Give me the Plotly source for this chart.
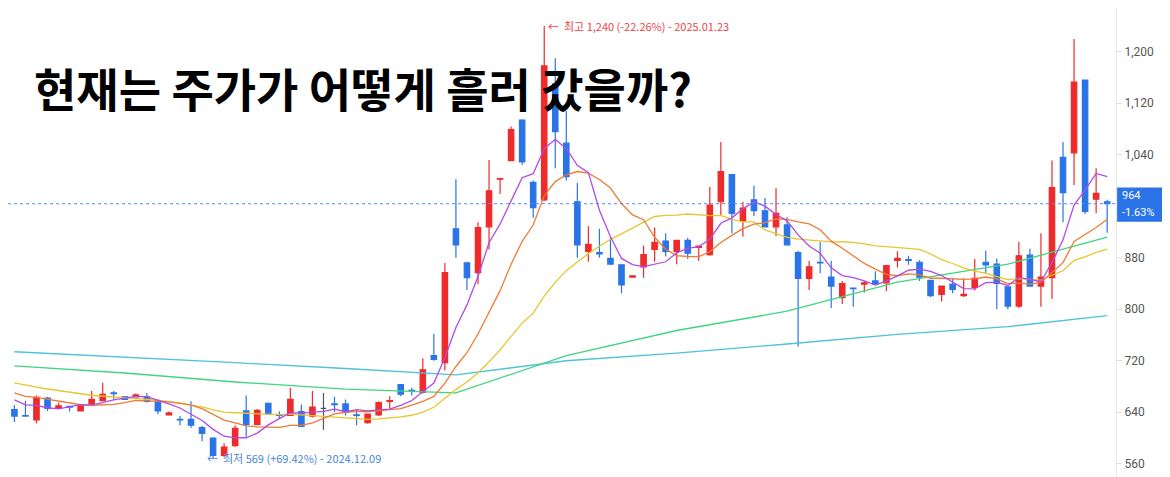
import pandas as pd
import plotly.graph_objs as go

# OHLC, one row per trading day (index 0..99)
opens = [644, 635, 628, 662, 646, 649, 642, 653, 658, 670, 664, 664, 664, 658, 636, 629, 629, 616, 600, 573,
         588, 642, 621, 654, 636, 635, 641, 634, 646, 653, 653, 636, 624, 636, 657, 683, 674, 671, 728, 717,
         925, 872, 857, 928, 1002, 1031, 1094, 997, 970, 1150, 1058, 967, 890, 888, 879, 869, 850, 866, 893, 906,
         890, 907, 896, 885, 967, 1009, 937, 970, 953, 928, 931, 888, 848, 873, 850, 818, 833, 839, 844, 841,
         876, 877, 873, 845, 823, 839, 821, 834, 873, 870, 835, 805, 884, 836, 849, 1036, 1043, 1156, 971, 967]
highs = [651, 658, 666, 664, 655, 649, 653, 673, 686, 673, 665, 669, 670, 660, 641, 634, 657, 619, 601, 592,
         620, 666, 645, 655, 641, 678, 652, 673, 670, 664, 660, 644, 638, 657, 665, 684, 678, 724, 762, 872,
         1002, 874, 935, 1032, 1003, 1084, 1095, 1000, 1240, 1190, 1108, 996, 929, 925, 912, 869, 853, 899, 927, 918,
         907, 911, 899, 990, 1060, 1009, 967, 992, 973, 988, 943, 891, 875, 905, 875, 844, 834, 844, 859, 869,
         890, 883, 876, 845, 836, 848, 848, 878, 891, 879, 835, 905, 894, 918, 1031, 1060, 1220, 1156, 1019, 970]
lows = [625, 633, 623, 642, 645, 641, 641, 651, 658, 660, 659, 663, 655, 637, 636, 620, 616, 595, 569, 570,
        586, 602, 620, 636, 630, 634, 617, 632, 613, 640, 635, 620, 622, 634, 646, 665, 666, 669, 720, 705,
        880, 830, 839, 893, 979, 1031, 1024, 942, 968, 1019, 1000, 880, 874, 880, 870, 825, 849, 849, 874, 882,
        870, 878, 875, 883, 945, 918, 913, 945, 927, 914, 899, 742, 830, 856, 802, 808, 804, 826, 838, 828,
        865, 869, 844, 819, 812, 825, 819, 829, 855, 800, 800, 802, 836, 804, 816, 935, 993, 948, 949, 919]
closes = [634, 634, 663, 646, 650, 648, 652, 660, 668, 669, 660, 667, 657, 642, 639, 628, 620, 607, 573, 586,
          615, 621, 643, 637, 635, 660, 618, 648, 646, 652, 640, 635, 637, 655, 658, 668, 673, 706, 722, 857,
          900, 849, 927, 984, 1003, 1079, 1029, 958, 1178, 1076, 1006, 900, 901, 886, 870, 838, 852, 885, 904, 890,
          907, 887, 898, 962, 1014, 949, 957, 953, 928, 949, 900, 848, 866, 872, 836, 840, 832, 841, 839, 868,
          879, 876, 850, 821, 836, 831, 823, 848, 869, 840, 805, 883, 836, 850, 989, 981, 1153, 952, 980, 964]

# closes before the visible window, used only for the short moving averages
pre_closes = [712, 718, 705, 700, 708, 702, 695, 698, 690, 685, 688, 680, 676, 684, 678, 672, 668, 664, 658]

# long moving averages at every 10th day
ma_idx = [0, 10, 20, 30, 40, 50, 60, 70, 80, 90, 99]
ma60 = [712, 701, 687, 676, 670, 728, 767, 797, 842, 870, 912]
ma120 = [734, 726, 717, 708, 698, 720, 732, 746, 761, 773, 790]

df = pd.DataFrame({'o': opens, 'h': highs, 'l': lows, 'c': closes})
df['x'] = range(len(df))
allc = pd.Series(pre_closes + closes)
n = len(pre_closes)
ma5 = allc.rolling(5).mean().iloc[n:].values
ma10 = allc.rolling(10).mean().iloc[n:].values
ma20 = allc.rolling(20).mean().iloc[n:].values

RED = '#ee2a2a'
BLUE = '#2a74e8'

up = df[df.c > df.o]
dn = df[df.c < df.o]
flat = df[df.c == df.o]

data = []
for part, col in [(up, RED), (dn, BLUE), (flat, '#555555')]:
    data.append(go.Candlestick(x=part.x, open=part.o, high=part.h, low=part.l, close=part.c,
                               increasing=dict(line=dict(color=col, width=1.2), fillcolor=col),
                               decreasing=dict(line=dict(color=col, width=1.2), fillcolor=col),
                               whiskerwidth=0, hoverinfo='skip', showlegend=False))

for ys, xs, col in [(ma120, ma_idx, '#4cc3da'), (ma60, ma_idx, '#3ed67e'), (ma20, df.x, '#e8c62e'),
                    (ma10, df.x, '#ef7b34'), (ma5, df.x, '#b24ae6')]:
    data.append(go.Scatter(x=list(xs), y=list(ys), mode='lines', line=dict(color=col, width=1.3),
                           hoverinfo='skip', showlegend=False))

last = closes[-1]
layout = go.Layout(
    width=1170, height=477, paper_bgcolor='white', plot_bgcolor='white',
    margin=dict(l=0, r=62, t=0, b=0),
    xaxis=dict(range=[-0.58, 99.8], showgrid=False, zeroline=False, showticklabels=False,
               rangeslider=dict(visible=False), fixedrange=True),
    yaxis=dict(range=[527, 1268], side='right', tickvals=list(range(560, 1201, 80)),
               tickformat=',', showgrid=False, zeroline=False, showline=True, linecolor='#e6e6e6',
               ticks='outside', tickcolor='#e0e0e0', ticklen=5,
               tickfont=dict(family='Roboto', size=12, color='#555555')),
    shapes=[dict(type='line', xref='paper', x0=0, x1=1, y0=last, y1=last,
                 line=dict(color='#4f8fe8', width=1, dash='dot')),
            dict(type='rect', xref='paper', x0=1.001, x1=1.06, y0=last - 28, y1=last + 25,
                 fillcolor='#2a74e8', line=dict(width=0))],
    annotations=[
        dict(text='<b>현재는 주가가 어떻게 흘러 갔을까?</b>', xref='paper', yref='paper', x=0.022, y=0.835,
             xanchor='left', yanchor='middle', showarrow=False,
             font=dict(family='Noto Sans CJK KR', size=46, color='black')),
        dict(text='←  최고 1,240 (-22.26%) - 2025.01.23', x=48, y=1240, xanchor='left', yanchor='middle',
             xshift=2, showarrow=False, font=dict(family='Noto Sans CJK KR', size=11, color='#ee4444')),
        dict(text='←  최저 569 (+69.42%) - 2024.12.09', x=18, y=569, xanchor='left', yanchor='middle',
             xshift=-8, showarrow=False, font=dict(family='Noto Sans CJK KR', size=11, color='#4a86e0')),
        dict(text='964', xref='paper', x=1, y=last + 12, xanchor='left', yanchor='middle', xshift=4,
             showarrow=False, font=dict(family='Roboto', size=11, color='white')),
        dict(text='-1.63%', xref='paper', x=1, y=last - 14, xanchor='left', yanchor='middle', xshift=4,
             showarrow=False, font=dict(family='Roboto', size=11, color='white')),
    ],
)

fig = go.Figure(data=data, layout=layout)
fig.write_html('out.html')
